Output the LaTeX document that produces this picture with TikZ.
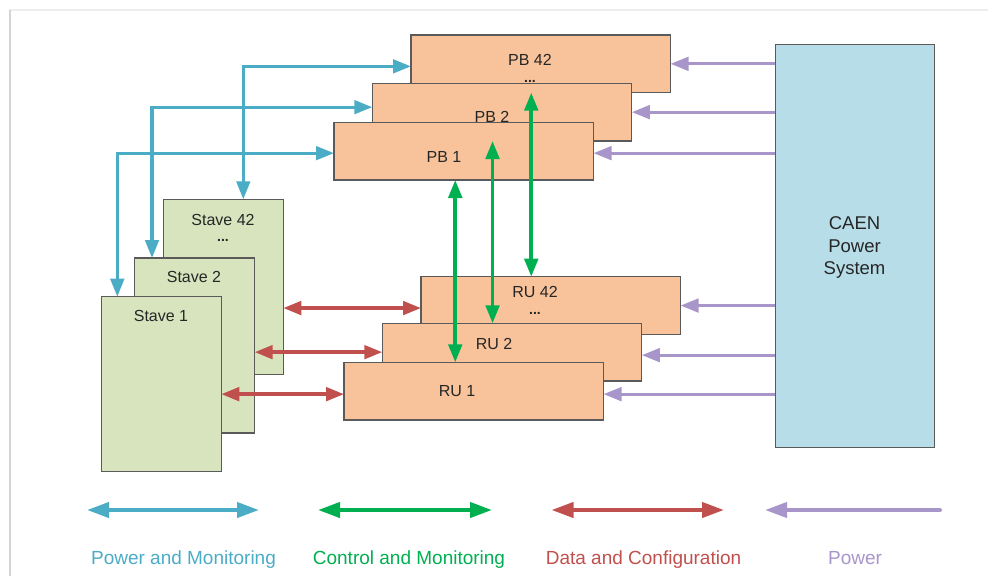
\documentclass[tikz,border=0pt]{standalone}
\usepackage{fontspec}
\setmainfont{Liberation Sans}
\usetikzlibrary{arrows.meta}

\definecolor{pmblue}{HTML}{4BACC6}
\definecolor{cmgreen}{HTML}{00B050}
\definecolor{dcred}{HTML}{C0504D}
\definecolor{pwpurple}{HTML}{A896CA}
\definecolor{boardfill}{HTML}{F8C39B}
\definecolor{stavefill}{HTML}{D7E4BD}
\definecolor{caenfill}{HTML}{B7DEE8}
\definecolor{edgegray}{HTML}{5A5A5A}
\definecolor{txt}{HTML}{262626}

\tikzset{
  box/.style={draw=edgegray, line width=1.1pt, inner sep=0pt, outer sep=0pt, anchor=north west},
  board/.style={box, fill=boardfill, minimum width=259.5pt, minimum height=57.7pt},
  stavebox/.style={box, fill=stavefill, minimum width=120pt, minimum height=175pt},
  caenbox/.style={box, fill=caenfill, minimum width=159.4pt, minimum height=403.4pt},
  lbl/.style={anchor=base, inner sep=0pt, text=txt, font=\fontsize{16}{19}\selectfont},
  dots/.style={lbl, font=\fontsize{14}{16}\selectfont\bfseries},
  biglbl/.style={anchor=base, inner sep=0pt, text=txt, font=\fontsize{18.5}{22}\selectfont},
  leglbl/.style={anchor=base, inner sep=0pt, font=\fontsize{19}{22}\selectfont},
  tip/.tip={Triangle[length=18pt, width=13.5pt]},
  legtip/.tip={Triangle[length=22pt, width=15pt]},
  pmline/.style={draw=pmblue, line width=3.2pt, {tip}-{tip}},
  cmline/.style={draw=cmgreen, line width=3.6pt, {tip}-{tip}},
  dcline/.style={draw=dcred, line width=3.4pt, {tip}-{tip}},
  pwline/.style={draw=pwpurple, line width=3.2pt, -{tip}},
}

\begin{document}
\begin{tikzpicture}[x=1pt, y=-1pt]
\useasboundingbox (0,0) rectangle (988,576);

% page frame
\draw[draw=black!7, line width=1.5pt] (9,10) -- (988,10);
\draw[draw=black!17, line width=2pt] (9.5,10) -- (9.5,576);

% power boards (back to front)
\node[board] (pb42) at (411,35) {};
\node[lbl] (pb42t) at (530,65) {PB 42};
\node[dots] (pb42d) at (530,82) {...};
\node[board] (pb2) at (372.3,83.3) {};
\node[lbl] (pb2t) at (492,122.5) {PB 2};
\node[board] (pb1) at (334,122.3) {};
\node[lbl] (pb1t) at (444,162.4) {PB 1};

% readout units (back to front)
\node[board] (ru42) at (421,276.7) {};
\node[lbl] (ru42t) at (535,297.4) {RU 42};
\node[dots] (ru42d) at (535,314) {...};
\node[board] (ru2) at (382.3,323.3) {};
\node[lbl] (ru2t) at (494,349.7) {RU 2};
\node[board] (ru1) at (344,362.3) {};
\node[lbl] (ru1t) at (457,396.4) {RU 1};

% staves (back to front)
\node[stavebox] (st42) at (163.3,199.3) {};
\node[lbl] (st42t) at (223,225) {Stave 42};
\node[dots] (st42d) at (223,241) {...};
\node[stavebox] (st2) at (134.7,258) {};
\node[lbl] (st2t) at (194,282.4) {Stave 2};
\node[stavebox] (st1) at (101.3,296.7) {};
\node[lbl] (st1t) at (161,321.4) {Stave 1};

% power supply
\node[caenbox] (caen) at (775.3,44.3) {};
\node[biglbl] (caen1) at (854.5,229.3) {CAEN};
\node[biglbl] (caen2) at (854.5,252.3) {Power};
\node[biglbl] (caen3) at (854.5,274.3) {System};

% power and monitoring: boards to staves
\draw[pmline] ([yshift=-2.5pt]pb42.west) -| ([xshift=20pt]st42.north);
\draw[pmline] ([yshift=5pt]pb2.west) -| ([xshift=-42.7pt]st2.north);
\draw[pmline] ([yshift=-2pt]pb1.west) -| ([xshift=-44pt]st1.north);

% control and monitoring: boards to readout units
\draw[cmline] ([xshift=-8.5pt]pb1.south) -- ([xshift=-8.5pt]pb1.south |- ru1.north);
\draw[cmline] ([xshift=-9.5pt]pb2.south) -- ([xshift=-9.5pt]pb2.south |- ru2.north);
\draw[cmline] ([xshift=-9.5pt]pb42.south) -- ([xshift=-9.5pt]pb42.south |- ru42.north);

% data and configuration: staves to readout units
\draw[dcline] ([yshift=-2.5pt]ru42.west -| st42.east) -- ([yshift=-2.5pt]ru42.west);
\draw[dcline] (ru2.west -| st2.east) -- (ru2.west);
\draw[dcline] ([yshift=-3pt]ru1.west -| st1.east) -- ([yshift=-3pt]ru1.west);

% power from the CAEN system
\draw[pwline] (pb42.east -| caen.west) -- (pb42.east);
\draw[pwline] (pb2.east -| caen.west) -- (pb2.east);
\draw[pwline] ([yshift=-2pt]pb1.east -| caen.west) -- ([yshift=-2pt]pb1.east);
\draw[pwline] (ru42.east -| caen.west) -- (ru42.east);
\draw[pwline] ([yshift=-3pt]ru2.east -| caen.west) -- ([yshift=-3pt]ru2.east);
\draw[pwline] ([yshift=-3pt]ru1.east -| caen.west) -- ([yshift=-3pt]ru1.east);

% legend
\coordinate (lgb1) at (87,510);   \coordinate (lgb2) at (259,510);
\coordinate (lgg1) at (318,510);  \coordinate (lgg2) at (492,510);
\coordinate (lgr1) at (551.5,510);\coordinate (lgr2) at (724,510);
\coordinate (lgp1) at (940,510);  \coordinate (lgp2) at (765,510);
\draw[draw=pmblue, line width=4pt, {legtip}-{legtip}] (lgb1) -- (lgb2);
\draw[draw=cmgreen, line width=4pt, {legtip}-{legtip}] (lgg1) -- (lgg2);
\draw[draw=dcred, line width=4pt, {legtip}-{legtip}] (lgr1) -- (lgr2);
\draw[draw=pwpurple, line width=4pt, line cap=round, -{legtip}] (lgp1) -- (lgp2);

\node[leglbl, text=pmblue] (legpm) at (183.5,564.8) {Power and Monitoring};
\node[leglbl, text=cmgreen] (legcm) at (409,564.8) {Control and Monitoring};
\node[leglbl, text=dcred] (legdc) at (643.5,564.8) {Data and Configuration};
\node[leglbl, text=pwpurple] (legpw) at (855,564.8) {Power};
\end{tikzpicture}
\end{document}
